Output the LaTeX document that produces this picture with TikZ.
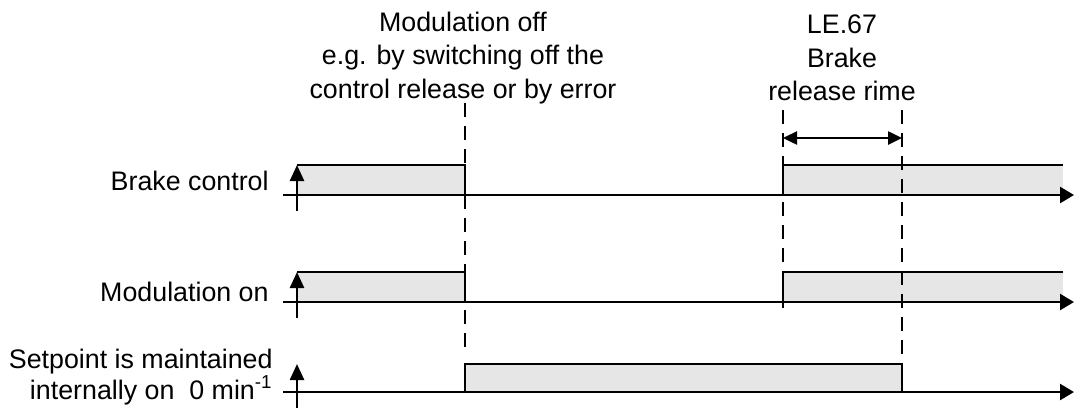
\documentclass[tikz,border=0pt]{standalone}
\usepackage{fontspec}
\setmainfont{Liberation Sans}
\usetikzlibrary{arrows.meta,positioning}
\definecolor{PulseGray}{HTML}{E6E6E6}
\tikzset{
  timeaxis/.style={draw=black,line width=1.25pt,-{Triangle[length=7pt,width=8pt]}},
  levelaxis/.style={draw=black,line width=1.25pt,-{Triangle[length=8pt,width=7pt]}},
  level/.style={draw=black,line width=1.25pt},
  pulse/.style={fill=PulseGray},
  marker/.style={draw=black,line width=1.25pt,dash pattern=on 7pt off 4.5pt},
  span/.style={{Triangle[length=7pt,width=6.5pt]}-{Triangle[length=7pt,width=6.5pt]},draw=black,line width=1.25pt},
  siglabel/.style={font=\fontsize{13.4}{14}\selectfont,anchor=east,align=right,inner sep=0pt},
  notelabel/.style={font=\fontsize{13.4}{16.8}\selectfont,align=center,inner sep=0pt}
}

\begin{document}
\begin{tikzpicture}[x=0.5pt,y=-0.5pt]
  \useasboundingbox (0,0) rectangle (1074,408);
  % switching instants
  \coordinate (off) at (465,0);
  \coordinate (rel) at (783,0);
  \coordinate (done) at (902,0);
  \coordinate (on) at (297,0);
  \coordinate (last) at (1063,0);

  % rows: axis level and pulse level
  \foreach \row/\base/\high in {brk/195/165,mod/302/272,set/392/364}{
    \coordinate (\row-start) at (283,\base);
    \coordinate (\row-end) at (1074,\base);
    \coordinate (\row-foot) at (297,\base+16);
    \coordinate (\row-top) at (297,\high);
  }

  \fill[pulse] (on |- brk-top) rectangle (off |- brk-start);
  \fill[pulse] (rel |- brk-top) rectangle (last |- brk-start);
  \fill[pulse] (on |- mod-top) rectangle (off |- mod-start);
  \fill[pulse] (rel |- mod-top) rectangle (last |- mod-start);
  \fill[pulse] (off |- set-top) rectangle (done |- set-start);

  \foreach \row in {brk,mod,set}{
    \draw[timeaxis] (\row-start) -- (\row-end);
    \draw[levelaxis] (\row-foot) -- (\row-top);
  }

  \draw[level] (brk-top) -- (off |- brk-top) -- (off |- brk-start);
  \draw[level] (rel |- brk-start) -- (rel |- brk-top) -- (last |- brk-top);
  \draw[level] (mod-top) -- (off |- mod-top) -- (off |- mod-start);
  \draw[level] (rel |- mod-start) -- (rel |- mod-top) -- (last |- mod-top);
  \draw[level] (off |- set-start) -- (off |- set-top) -- (done |- set-top)
    -- (done |- set-start);

  \draw[marker] (465,103) -- (465,353);
  \draw[marker] (783,110) -- (783,314);
  \draw[marker] (902,110) -- (902,362);
  \draw[span] (783,138) -- (902,138);

  \node[notelabel] (offnote) at (463,58)
    {Modulation off\\e.g. by switching off the\\control release or by error};
  \node[notelabel] (relnote) at (842,58) {LE.67\\Brake\\release rime};

  \node[siglabel] (brklabel) at (269,181) {Brake control};
  \node[siglabel] (modlabel) at (269,292) {Modulation on};
  \node[siglabel] (setlabel) at (273,377)
    {Setpoint is maintained\\internally on~ 0 min\textsuperscript{-1}};
\end{tikzpicture}
\end{document}
